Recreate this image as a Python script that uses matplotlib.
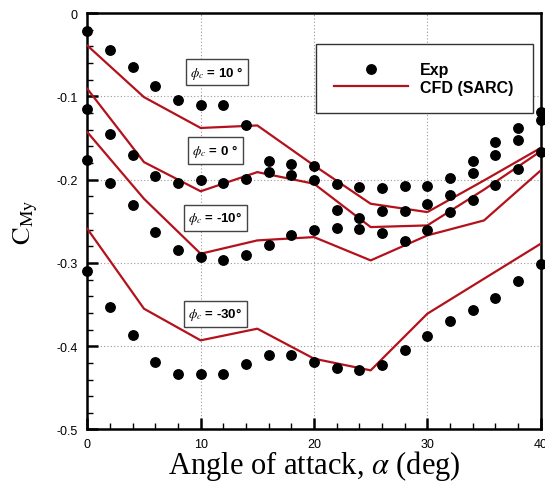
import matplotlib
matplotlib.use("Agg")
import matplotlib.pyplot as plt
from matplotlib.ticker import MultipleLocator, FixedLocator, FixedFormatter

plt.rcParams['axes.unicode_minus'] = False
plt.rcParams['mathtext.fontset'] = 'stix'

# ---------------- data ----------------
alpha_exp = [0, 2, 4, 6, 8, 10, 12, 14, 16, 18, 20, 22, 24, 26, 28, 30, 32, 34, 36, 38, 40]
exp_p10 = [-0.022, -0.045, -0.065, -0.088, -0.105, -0.110, -0.110, -0.134, -0.178, -0.181, -0.184,
           -0.205, -0.209, -0.210, -0.208, -0.208, -0.198, -0.178, -0.155, -0.138, -0.119]
exp_p0 = [-0.115, -0.145, -0.170, -0.196, -0.204, -0.201, -0.204, -0.199, -0.191, -0.195, -0.200,
          -0.237, -0.246, -0.238, -0.238, -0.229, -0.219, -0.192, -0.171, -0.153, -0.129]
exp_m10 = [-0.177, -0.204, -0.230, -0.263, -0.284, -0.293, -0.297, -0.291, -0.278, -0.267, -0.260,
           -0.258, -0.259, -0.264, -0.274, -0.260, -0.239, -0.225, -0.207, -0.187, -0.167]
exp_m30 = [-0.310, -0.353, -0.387, -0.419, -0.433, -0.433, -0.433, -0.421, -0.411, -0.411, -0.419,
           -0.426, -0.429, -0.422, -0.405, -0.388, -0.370, -0.357, -0.342, -0.322, -0.301]

alpha_cfd = [0, 5, 10, 15, 20, 25, 30, 35, 40]
cfd_p10 = [-0.039, -0.101, -0.138, -0.135, -0.183, -0.229, -0.239, -0.201, -0.162]
cfd_p0 = [-0.091, -0.179, -0.214, -0.191, -0.205, -0.257, -0.255, -0.212, -0.166]
cfd_m10 = [-0.143, -0.223, -0.289, -0.273, -0.269, -0.297, -0.267, -0.249, -0.189]
cfd_m30 = [-0.259, -0.355, -0.393, -0.379, -0.415, -0.429, -0.361, -0.319, -0.277]

labels = [r'$\phi_{c}$ = 10 °', r'$\phi_{c}$ = 0 °', r'$\phi_{c}$ = -10°', r'$\phi_{c}$ = -30°']
label_x = [11.45, 11.3, 11.3, 11.3]
label_y = [-0.071, -0.165, -0.246, -0.361]

xticks = [0, 10, 20, 30, 40]
xtick_labels = ['0', '10', '20', '30', '40']
yticks = [0, -0.1, -0.2, -0.3, -0.4, -0.5]
ytick_labels = ['0', '-0.1', '-0.2', '-0.3', '-0.4', '-0.5']

red = '#b3121c'

fig = plt.figure(figsize=(5.45, 4.85), dpi=100)
ax = fig.add_axes([0.1602, 0.1124, 0.8319, 0.8587])

ax.set_xlim(0, 40)
ax.set_ylim(-0.5, 0)

ax.grid(True, which='major', color='#999999', linestyle=(0, (1, 2)), linewidth=0.8)
ax.set_axisbelow(True)

for i, yv in enumerate([exp_p10, exp_p0, exp_m10, exp_m30]):
    ax.plot(alpha_exp, yv, 'o', color='black', ms=6.8, clip_on=False, zorder=4,
            label='Exp' if i == 0 else None)
for i, yv in enumerate([cfd_p10, cfd_p0, cfd_m10, cfd_m30]):
    ax.plot(alpha_cfd, yv, '-', color=red, lw=1.6, zorder=3,
            label='CFD (SARC)' if i == 0 else None)

for t, xx, yy in zip(labels, label_x, label_y):
    ax.text(xx, yy, t, ha='center', va='center', fontsize=9.5, fontweight='bold',
            family='Liberation Sans', zorder=5,
            bbox=dict(boxstyle='square,pad=0.35', fc='white', ec='#444444', lw=1.0))

leg = ax.legend(loc='center', bbox_to_anchor=(0.504, 0.750, 0.478, 0.186), mode='expand',
                fancybox=False, frameon=True, edgecolor='#333333', framealpha=1,
                borderaxespad=0, borderpad=1.15, handlelength=4.6, handletextpad=0.75,
                labelspacing=0.15, prop=dict(family='Liberation Sans', weight='bold', size=11.5))
leg.get_frame().set_linewidth(1.0)
leg.set_zorder(6)

ax.xaxis.set_major_locator(FixedLocator(xticks))
ax.xaxis.set_major_formatter(FixedFormatter(xtick_labels))
ax.xaxis.set_minor_locator(MultipleLocator(2))
ax.yaxis.set_major_locator(FixedLocator(yticks))
ax.yaxis.set_major_formatter(FixedFormatter(ytick_labels))
ax.yaxis.set_minor_locator(MultipleLocator(0.02))

ax.tick_params(which='major', direction='in', length=8, width=1.8, labelsize=9)
ax.tick_params(which='minor', direction='in', length=4, width=1.0)
ax.tick_params(axis='x', which='major', pad=6)
ax.tick_params(axis='y', which='major', pad=7)
for lab in ax.get_xticklabels() + ax.get_yticklabels():
    lab.set_family('Liberation Sans')

for s in ax.spines.values():
    s.set_linewidth(1.8)

ax.set_xlabel(r'Angle of attack, $\alpha$ (deg)', family='Liberation Serif', fontsize=22, labelpad=-1)
ax.set_ylabel(r'$\mathrm{C}_{\mathrm{My}}$', family='Liberation Serif', fontsize=19)
ax.yaxis.set_label_coords(-0.104, 0.5)

fig.savefig('out.png', dpi=100)
